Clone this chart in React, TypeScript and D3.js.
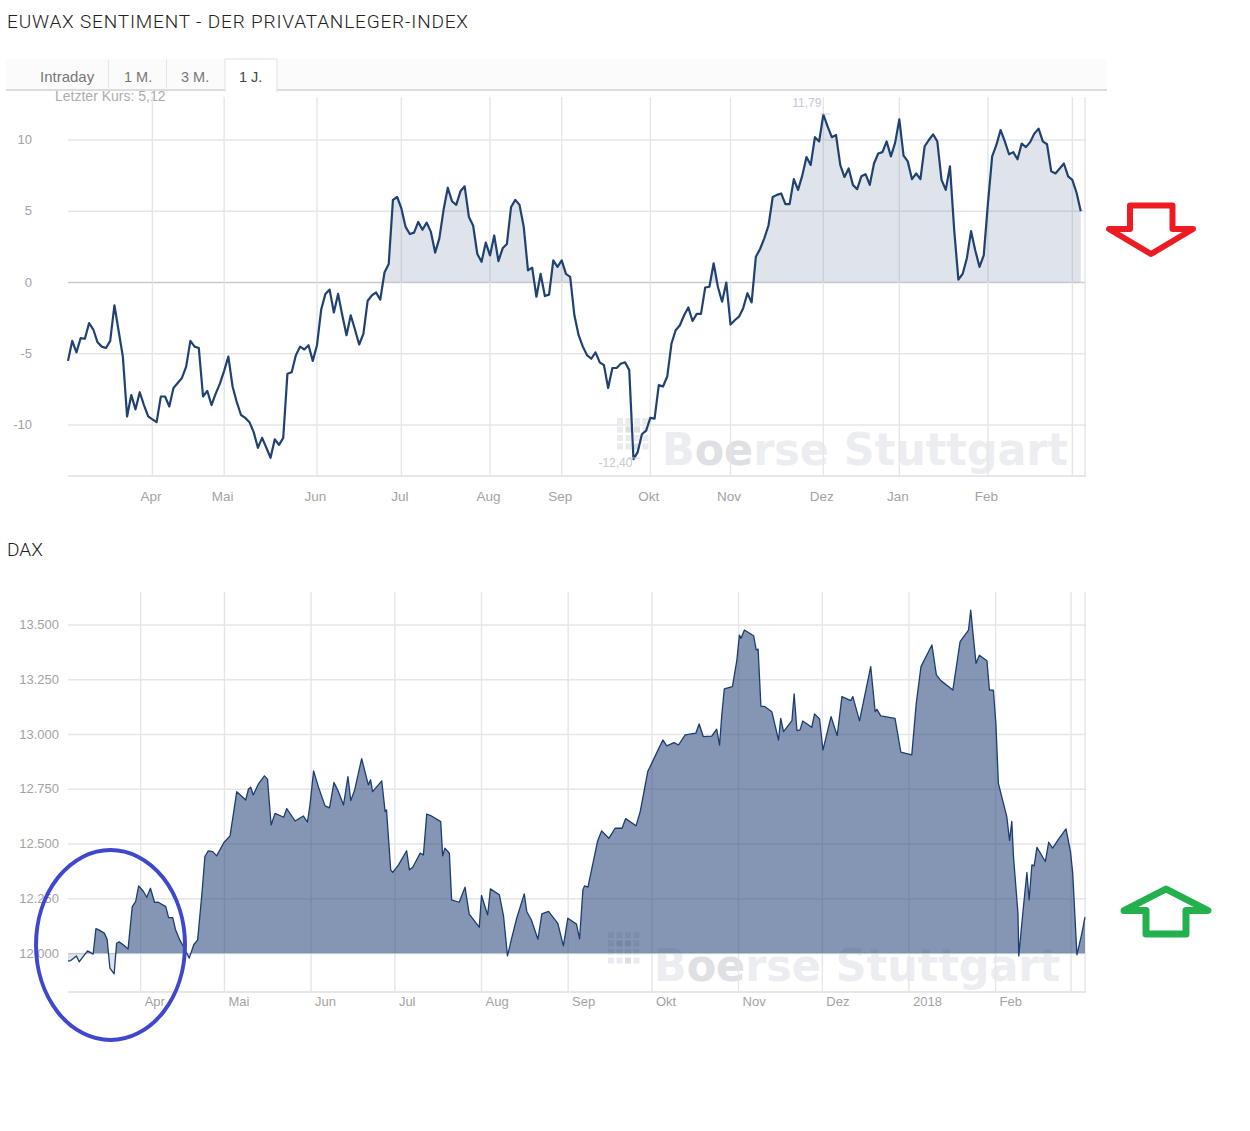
import React from 'react'
import * as d3 from 'd3'

// EUWAX sentiment, one value per trading day
const sentimentValues = [
  -5.5, -4.1, -4.9, -3.9, -3.95, -2.85, -3.3, -4.2, -4.5, -4.6,
  -4.1, -1.6, -3.4, -5.2, -9.4, -7.9, -8.9, -7.7, -8.6, -9.4,
  -9.6, -9.8, -8, -8, -8.7, -7.4, -7.05, -6.7, -5.9, -4.1,
  -4.5, -4.6, -8, -7.6, -8.6, -7.8, -7.1, -6.2, -5.2, -7.3,
  -8.4, -9.3, -9.5, -9.8, -10.5, -11.6, -10.9, -11.6, -12.3, -11,
  -11.4, -10.9, -6.4, -6.3, -5.1, -4.5, -4.7, -4.4, -5.5, -4.4,
  -1.9, -0.8, -0.5, -2.1, -0.8, -2.3, -3.7, -2.3, -3.3, -4.35,
  -3.6, -1.3, -0.9, -0.7, -1.2, 0.7, 1.3, 5.8, 6, 5.2,
  3.9, 3.4, 3.5, 4.25, 3.7, 4.2, 3.55, 2.1, 3.1, 5.1,
  6.65, 5.7, 5.45, 6.4, 6.75, 4.6, 4, 2, 1.45, 2.8,
  1.9, 3.3, 1.5, 2.4, 2.7, 5.3, 5.8, 5.45, 3.9, 0.85,
  1.05, -1, 0.6, -0.95, -0.85, 1.55, 1.1, 1.55, 0.6, 0.4,
  -2.3, -3.7, -4.5, -5.1, -5.35, -4.9, -5.6, -5.8, -7.4, -6,
  -6, -5.7, -5.6, -6.15, -12.4, -11.9, -10.65, -10.4, -9.5, -9.55,
  -7.2, -7.3, -6.6, -4.3, -3.35, -3, -2.3, -1.75, -2.7, -2.2,
  -2.2, -0.35, -0.3, 1.35, -0.3, -1.35, 0, -2.95, -2.65, -2.4,
  -1.8, -0.75, -1.4, 1.8, 2.35, 3.1, 4, 6, 6.15, 6.25,
  5.5, 5.5, 7.25, 6.5, 7.5, 8.8, 8.25, 10.2, 9.9, 11.79,
  10.95, 10.2, 10.35, 8.25, 7.4, 8, 6.85, 6.55, 7.45, 7.6,
  6.85, 8.35, 9.05, 9.15, 9.9, 8.85, 9.8, 11.45, 8.9, 8.5,
  7.25, 7.65, 7.25, 9.55, 10, 10.4, 9.9, 7.2, 6.5, 8.15,
  3.7, 0.2, 0.6, 1.7, 3.6, 2.25, 1.1, 1.9, 5.55, 8.85,
  9.65, 10.7, 9.9, 9, 9.15, 8.65, 9.75, 9.5, 9.85, 10.45,
  10.8, 9.9, 9.7, 7.8, 7.65, 8, 8.35, 7.45, 7.2, 6.3, 5,
]
const sentimentTicks = [-10, -5, 0, 5, 10]
const sentimentMonths = ['Apr', 'Mai', 'Jun', 'Jul', 'Aug', 'Sep', 'Okt', 'Nov', 'Dez', 'Jan', 'Feb', '']
const sentimentMonthDays = [20, 37, 59, 79, 100, 117, 138, 157, 179, 197, 218, 238]
const lastQuote = 5.12

// DAX closes; daxDays = calendar days since 6 March 2017
const daxDays = [
  0, 1, 3, 4, 7, 9, 10, 11, 13, 14, 15, 16.5, 17.4, 18.3, 20, 21.5, 23, 24.2, 25.3, 27,
  28.2, 29.5, 31, 32.3, 35, 36, 37.5, 38.5, 40, 41.3, 43.4, 45, 46.4, 48, 49, 50.2, 51.8, 53.2, 55.8, 58,
  60.4, 63.6, 64.6, 65.4, 66.3, 68.1, 70.3, 71.4, 72.7, 74.1, 77.2, 78.3, 81.3, 84.2, 85.7, 86.6, 87.9, 89.6, 92, 93.6,
  95.2, 96.8, 98.6, 100.2, 101.2, 102.6, 105.1, 107.5, 108.3, 109, 112.3, 113.5, 114, 115.5, 116.2, 118.3, 121.2, 122.2, 123.4, 126,
  127.2, 128.4, 129.8, 133.4, 134.1, 134.9, 136.5, 137.3, 140, 142.1, 143.6, 147.2, 148, 150.2, 151.2, 154.4, 155.9, 157.3, 158.8, 160.6,
  163.3, 164.2, 165.8, 168.2, 169.6, 172, 175.3, 177.3, 178.9, 182, 183.1, 184.3, 184.9, 186.1, 189.5, 191, 193.6, 195.8, 198.3, 199.6,
  203.3, 204.8, 207.5, 209.5, 212.9, 214.3, 216.9, 218.5, 220.9, 224.7, 225.9, 227.4, 230.4, 232.2, 233.2, 234, 234.9, 237.8, 239.4, 240.3,
  240.9, 242.1, 245.4, 246.3, 247, 248, 249.5, 251.9, 254.3, 255.1, 256.1, 259.1, 259.9, 260.9, 262, 263, 266.2, 267.2, 269, 270.2,
  273.1, 275.3, 277, 280.2, 280.9, 283.3, 287.3, 288.9, 289.5, 290.9, 296, 298.1, 302, 303.6, 305.3, 309.2, 310.8, 312.4, 316.7, 319.3,
  322.3, 323.1, 323.9, 325, 326.2, 328.9, 329.8, 331.2, 332.1, 333, 336, 337, 337.8, 338.4, 340, 340.3, 341.8, 343.2, 344, 345,
  345.8, 346.8, 349.8, 351, 352.4, 354.6, 357.2, 358.8, 359.6, 361.1, 362.9, 364,
]
const daxCloses = [
  11965, 11968, 11989, 11962, 12012, 11997, 12114, 12108, 12093, 12065, 11933, 11907, 12047, 12053, 12038, 12020, 12214, 12237, 12309, 12283,
  12257, 12298, 12233, 12234, 12214, 12164, 12164, 12108, 12062, 12032, 11979, 12040, 12062, 12283, 12443, 12469, 12465, 12446, 12507, 12537,
  12739, 12701, 12751, 12759, 12724, 12773, 12811, 12796, 12587, 12640, 12622, 12662, 12605, 12628, 12600, 12678, 12834, 12762, 12674, 12665,
  12781, 12739, 12678, 12808, 12698, 12747, 12890, 12770, 12793, 12739, 12788, 12648, 12656, 12382, 12370, 12405, 12469, 12382, 12394, 12458,
  12450, 12637, 12630, 12602, 12446, 12481, 12458, 12245, 12234, 12303, 12180, 12120, 12265, 12176, 12295, 12268, 12169, 11989, 12070, 12161,
  12272, 12192, 12154, 12065, 12181, 12192, 12138, 12035, 12161, 12134, 12067, 12291, 12309, 12303, 12511, 12560, 12526, 12572, 12572, 12616,
  12583, 12648, 12831, 12884, 12975, 12948, 12963, 12952, 12998, 13006, 13048, 12990, 12993, 13024, 12952, 13089, 13208, 13219, 13340, 13454,
  13439, 13477, 13451, 13386, 13390, 13130, 13127, 13104, 12975, 13074, 13013, 13063, 13185, 13018, 13021, 13062, 13033, 13094, 13071, 12929,
  13082, 12995, 13173, 13155, 13173, 13062, 13310, 13104, 13115, 13085, 13074, 12919, 12907, 13142, 13310, 13409, 13272, 13246, 13203, 13424,
  13477, 13568, 13462, 13325, 13362, 13337, 13203, 13203, 13051, 12777, 12625, 12516, 12603, 12443, 12184, 11989, 12192, 12370, 12245, 12405,
  12400, 12485, 12420, 12508, 12481, 12523, 12569, 12465, 12367, 11994, 12093, 12166,
]
const daxTicks = [12000, 12250, 12500, 12750, 13000, 13250, 13500]
const daxMonths = ['Apr', 'Mai', 'Jun', 'Jul', 'Aug', 'Sep', 'Okt', 'Nov', 'Dez', '2018', 'Feb', '']
const daxMonthDates = [
  '2017-04-01', '2017-05-01', '2017-06-01', '2017-07-01', '2017-08-01', '2017-09-01',
  '2017-10-01', '2017-11-01', '2017-12-01', '2018-01-01', '2018-02-01', '2018-02-28',
]
const tabs = ['Intraday', '1 M.', '3 M.', '1 J.']

const GRID = '#e6e6e8'
const LABEL = '#a3a3a3'
const SANS = '"Liberation Sans", Arial, sans-serif'
const DAY = 864e5
const DAX_START = Date.UTC(2017, 2, 6)

const de = d3.formatLocale({ decimal: ',', thousands: '.', grouping: [3], currency: ['', '€'], minus: '-' })
const fmtPoints = de.format(',.0f')
const fmtQuote = de.format('.2f')

// top chart
const sx = d3.scaleLinear().domain([0, 241]).range([68, 1085])
const sy = d3.scaleLinear().domain([-10, 10]).range([425, 140])
const sLine = d3.line<number>().x((_, i) => sx(i)).y(d => sy(d))
const sArea = d3.area<number>().x((_, i) => sx(i)).y0(sy(0)).y1(d => sy(d))
const sMaxIdx = d3.maxIndex(sentimentValues)
const sMinIdx = d3.minIndex(sentimentValues)

// bottom chart
const dx = d3.scaleUtc().domain([DAX_START, DAX_START + 364 * DAY]).range([68, 1085])
const dy = d3.scaleLinear().domain([12000, 13500]).range([953.5, 625])
const daxPoints = daxCloses.map((v, i) => ({ date: DAX_START + daxDays[i] * DAY, v }))
const dLine = d3.line<{ date: number; v: number }>().x(d => dx(d.date)).y(d => dy(d.v))
const dArea = d3.area<{ date: number; v: number }>().x(d => dx(d.date)).y0(dy(12000)).y1(d => dy(d.v))

function Watermark({ x, y, dotX, dotY }: { x: number; y: number; dotX: number; dotY: number }) {
  const dots = d3.range(16).map(i => ({ col: i % 4, row: Math.floor(i / 4) }))
  return (
    <g>
      {dots.map((d, i) => (
        <rect key={i} x={dotX + d.col * 8.5} y={dotY + d.row * 8.5} width={6} height={6}
          fill={i === 5 || i === 6 || i === 14 ? '#dcdee2' : '#eaebee'} />
      ))}
      <text x={x} y={y} fontFamily='"DejaVu Sans", sans-serif' fontWeight={700} fontSize={45}
        textLength={406} lengthAdjust="spacingAndGlyphs" fill="#ebedf0">
        B<tspan fill="#dee0e4">oe</tspan>rse Stuttgart
      </text>
    </g>
  )
}

export default function App() {
  return (
    <svg width={1250} height={1131} style={{ position: 'absolute', left: 0, top: 0, display: 'block' }} fontFamily={SANS}>
      <defs>
        <clipPath id="sent-above"><rect x={60} y={90} width={1040} height={sy(0) - 90} /></clipPath>
        <clipPath id="dax-above"><rect x={60} y={585} width={1040} height={dy(12000) - 585} /></clipPath>
        <clipPath id="dax-below"><rect x={60} y={dy(12000)} width={1040} height={60} /></clipPath>
      </defs>

      <text x={7} y={28} fontFamily='Roboto, sans-serif' fontWeight={300} fontSize={19} fill="#222" textLength={461} lengthAdjust="spacing">
        EUWAX SENTIMENT - DER PRIVATANLEGER-INDEX
      </text>

      {/* tab strip */}
      <rect x={6} y={59} width={1101} height={30} fill="#fbfbfb" />
      <line x1={6} x2={1107} y1={90} y2={90} stroke="#dcdcdc" strokeWidth={2} />
      <rect x={225} y={59} width={52} height={32} fill="#fff" stroke="#e2e2e2" />
      <rect x={226} y={88} width={50} height={4} fill="#fff" />
      {[108.5, 166.5].map(x => <line key={x} x1={x} x2={x} y1={60} y2={88} stroke="#e6e6e6" />)}
      {tabs.map((t, i) => (
        <text key={t} x={[40, 124, 181, 239][i]} y={82} fontSize={i === 0 ? 15 : 14.5} fill={i === 3 ? '#444' : '#777'}>{t}</text>
      ))}
      <text x={55} y={101} fontSize={14} fill="#adadad">Letzter Kurs: {fmtQuote(lastQuote)}</text>

      {/* EUWAX chart */}
      <Watermark x={662} y={465} dotX={617} dotY={418} />
      {sentimentTicks.map(t => (
        <g key={t}>
          <line x1={68} x2={1086} y1={sy(t)} y2={sy(t)} stroke={t === 0 ? '#cfcfd2' : GRID} strokeWidth={1.4} />
          <text x={32} y={sy(t) + 4} textAnchor="end" fontSize={13} fill={LABEL}>{t}</text>
        </g>
      ))}
      <line x1={68} x2={1086} y1={476} y2={476} stroke="#dedfe2" strokeWidth={1.4} />
      {sentimentMonthDays.map((d, i) => (
        <g key={d}>
          <line x1={sx(d)} x2={sx(d)} y1={97} y2={476} stroke={GRID} strokeWidth={1.4} />
          <text x={sx(d) - 1.5} y={501} textAnchor="middle" fontSize={13.5} fill={LABEL}>{sentimentMonths[i]}</text>
        </g>
      ))}
      <line x1={1085} x2={1085} y1={97} y2={476} stroke={GRID} strokeWidth={1.4} />
      <path d={sArea(sentimentValues) ?? ''} fill="#1b3d72" fillOpacity={0.14} clipPath="url(#sent-above)" />
      <path d={sLine(sentimentValues) ?? ''} fill="none" stroke="#1f4272" strokeWidth={2.2} strokeLinejoin="round" />
      <line x1={sx(sMaxIdx) - 3} x2={sx(sMaxIdx) + 7} y1={114} y2={114} stroke="#cdd2dc" />
      <text x={sx(sMaxIdx) - 2} y={107} textAnchor="end" fontSize={12} fill="#c3c9d6">{fmtQuote(sentimentValues[sMaxIdx])}</text>
      <line x1={sx(sMinIdx) - 5} x2={sx(sMinIdx) + 7} y1={458} y2={458} stroke="#cdd2dc" />
      <text x={sx(sMinIdx) - 1} y={467} textAnchor="end" fontSize={12} fill="#c3c9d6">{fmtQuote(sentimentValues[sMinIdx])}</text>

      {/* DAX chart */}
      <text x={7} y={556} fontFamily='Roboto, sans-serif' fontWeight={300} fontSize={19} fill="#222">DAX</text>
      <Watermark x={654} y={981} dotX={608} dotY={932} />
      {daxTicks.map(t => (
        <g key={t}>
          <line x1={68} x2={1086} y1={dy(t)} y2={dy(t)} stroke={GRID} strokeWidth={1.4} />
          <text x={59} y={dy(t) + 4} textAnchor="end" fontSize={13} fill={LABEL}>{fmtPoints(t)}</text>
        </g>
      ))}
      <line x1={68} x2={1086} y1={992} y2={992} stroke="#dedfe2" strokeWidth={1.4} />
      {daxMonthDates.map((d, i) => {
        const px = dx(new Date(d + 'T00:00:00Z'))
        return (
          <g key={d}>
            <line x1={px} x2={px} y1={592} y2={992} stroke={GRID} strokeWidth={1.4} />
            <text x={px + 4} y={1006} fontSize={13} fill={LABEL}>{daxMonths[i]}</text>
          </g>
        )
      })}
      <line x1={1085} x2={1085} y1={592} y2={992} stroke={GRID} strokeWidth={1.4} />
      <path d={dArea(daxPoints) ?? ''} fill="#1b3d72" fillOpacity={0.14} clipPath="url(#dax-below)" />
      <path d={dArea(daxPoints) ?? ''} fill="#1b3d72" fillOpacity={0.54} clipPath="url(#dax-above)" />
      <path d={dLine(daxPoints) ?? ''} fill="none" stroke="#1b3d72" strokeWidth={1.3} strokeLinejoin="round" />

      {/* hand-drawn annotations on top of the screenshots */}
      <polygon points="1130,205.5 1172.5,205.5 1172.5,229 1193,229 1151,254 1109,229 1130,229"
        fill="none" stroke="#ed1c24" strokeWidth={6} strokeLinejoin="round" />
      <polygon points="1166,889 1208,910.5 1186,910.5 1186,934 1146,934 1146,910.5 1124,910.5"
        fill="none" stroke="#22b14c" strokeWidth={7} strokeLinejoin="round" />
      <ellipse cx={110.5} cy={945} rx={74.5} ry={95} fill="none" stroke="#3f48cc" strokeWidth={4} />
    </svg>
  )
}
